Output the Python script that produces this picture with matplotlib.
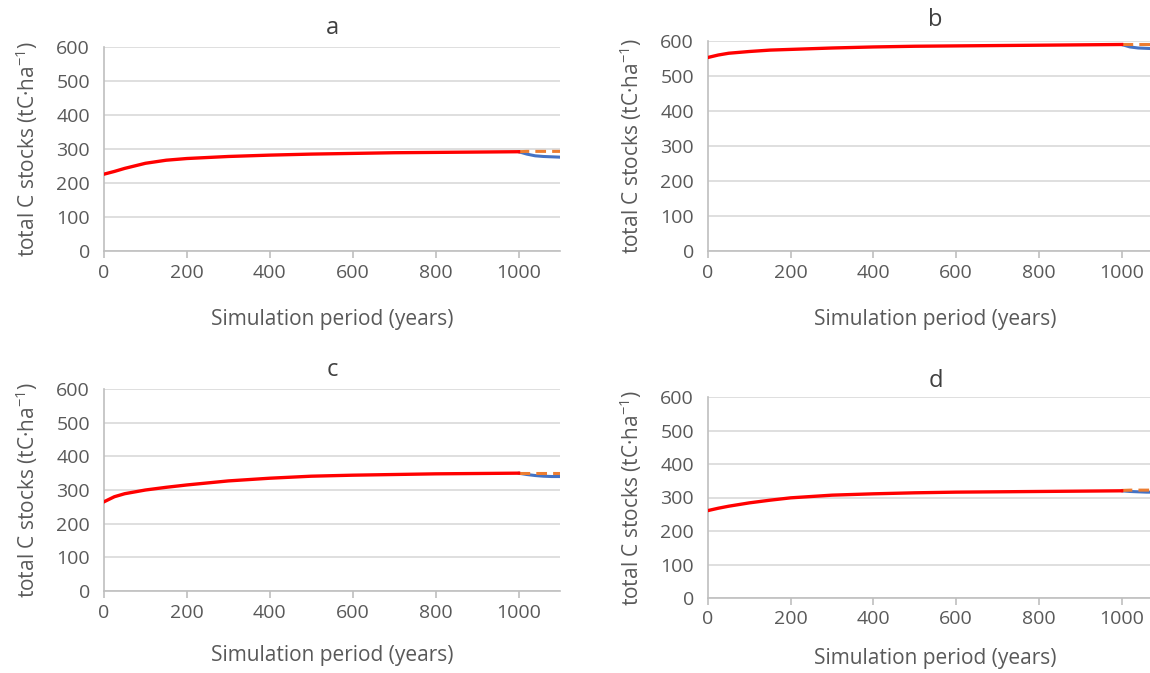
import matplotlib
matplotlib.use("Agg")
import matplotlib.pyplot as plt

plt.rcParams['font.family'] = ['Open Sans', 'DejaVu Sans']

years = [0, 25, 50, 100, 150, 200, 300, 400, 500, 600, 700, 800, 900, 1000]
post_years = [1000, 1020, 1040, 1060, 1080, 1100]

a_red = [226, 234, 243, 258, 267, 272, 278, 282, 285, 287, 289, 290, 291, 292]
a_blue = [292, 285, 280, 278, 277, 276]
a_orange = [292, 293, 293, 293, 293, 293]

b_red = [553, 560, 565, 570, 574, 576, 580, 583, 585, 586, 587, 588, 589, 590]
b_blue = [590, 583, 580, 579, 578, 578]
b_orange = [590, 590, 590, 590, 590, 590]

c_red = [265, 280, 289, 300, 308, 315, 327, 335, 341, 344, 346, 348, 349, 350]
c_blue = [350, 346, 343, 341, 340, 340]
c_orange = [350, 350, 350, 350, 350, 350]

d_red = [261, 268, 274, 284, 292, 299, 307, 311, 314, 316, 317, 318, 319, 320]
d_blue = [320, 318, 317, 316, 316, 316]
d_orange = [321, 322, 322, 322, 322, 322]

titles = ['a', 'b', 'c', 'd']
x_ticks = [0, 200, 400, 600, 800, 1000]
y_ticks = [0, 100, 200, 300, 400, 500, 600]
xlabel = 'Simulation period (years)'
ylabel = r'total C stocks (tC·ha$^{\mathregular{-1}}$)'

W, H = 1150, 673
fig = plt.figure(figsize=(W / 100, H / 100), dpi=100)

# panel boxes in pixels: left, top, bottom, width
boxes = [
    (104, 47, 251, 456),
    (708, 41, 251, 455),
    (104, 389, 591, 456),
    (708, 397, 598, 455),
]
title_gap = [21, 23, 21, 19]
xlabel_pad = [20, 20, 17, 14]
series = [
    (a_red, a_blue, a_orange),
    (b_red, b_blue, b_orange),
    (c_red, c_blue, c_orange),
    (d_red, d_blue, d_orange),
]

text_col = '#595959'
grid_col = '#d9d9d9'
spine_col = '#bfbfbf'

for i, (left, top, bottom, width) in enumerate(boxes):
    ax = fig.add_axes([left / W, 1 - bottom / H, width / W, (bottom - top) / H])
    red, blue, orange = series[i]
    ax.plot(post_years, blue, color='#4472c4', lw=2.2, solid_capstyle='round', zorder=3)
    ax.plot(post_years, orange, color='#ed7d31', lw=2.2, ls=(0, (3.5, 2)), zorder=3)
    ax.plot(years, red, color='#ff0000', lw=2.4, zorder=4)
    ax.set_xlim(0, 1100)
    ax.set_ylim(0, 600)
    ax.set_xticks(x_ticks)
    ax.set_yticks(y_ticks)
    ax.grid(axis='y', color=grid_col, lw=1.2)
    ax.set_axisbelow(True)
    for s in ['top', 'right']:
        ax.spines[s].set_visible(False)
    ax.spines['left'].set_color(spine_col)
    ax.spines['bottom'].set_color(spine_col)
    ax.spines['left'].set_linewidth(1.2)
    ax.spines['bottom'].set_linewidth(1.2)
    ax.tick_params(axis='x', colors=text_col, labelsize=14, length=5, width=1.2,
                   color=spine_col, pad=4)
    ax.tick_params(axis='y', colors=text_col, labelsize=14, length=0, pad=10)
    ax.set_xlabel(xlabel, fontsize=15, color=text_col, labelpad=xlabel_pad[i])
    ax.set_ylabel(ylabel, fontsize=15, color=text_col, labelpad=12)
    ax.set_title(titles[i], fontsize=17, color='#404040', pad=title_gap[i] - 12)

fig.savefig('out.png', dpi=100)
